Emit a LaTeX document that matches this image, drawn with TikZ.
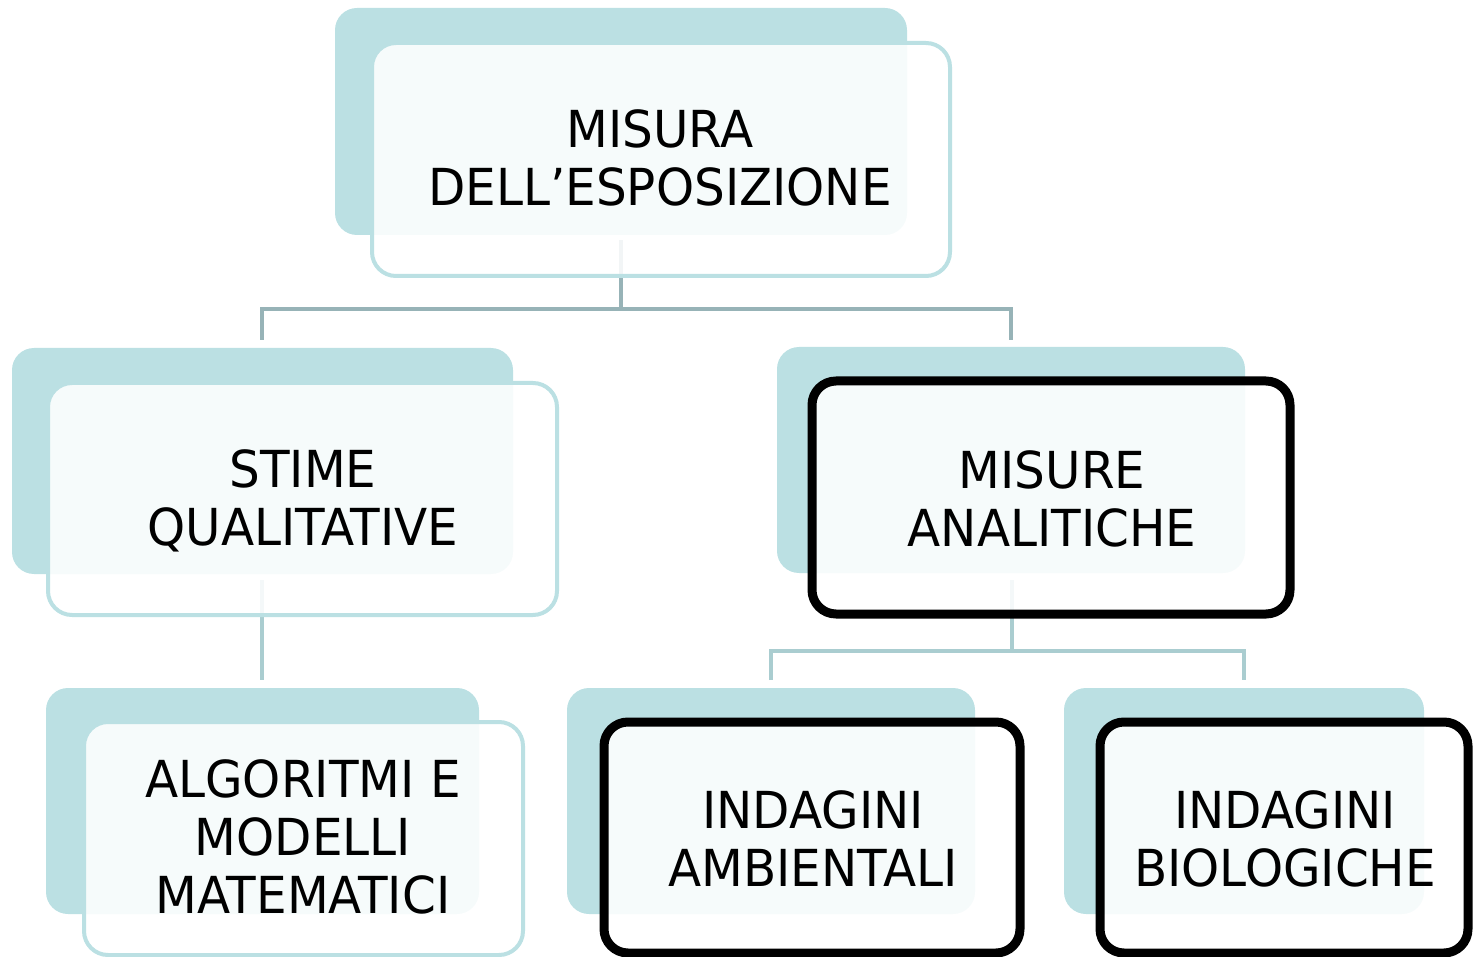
\documentclass[tikz,border=0pt]{standalone}
\usepackage{fontspec}
\setmainfont[FakeStretch=0.95]{DejaVu Sans}
\definecolor{backteal}{HTML}{BBE0E3}
\definecolor{edgeteal}{HTML}{BBE0E3}
\definecolor{linetop}{HTML}{97B3B7}
\definecolor{linelow}{HTML}{AACDD0}
\tikzset{
  backbox/.style={fill=backteal, draw=none, rounded corners=22pt},
  frontbox/.style={fill=white, fill opacity=0.88, draw=edgeteal, line width=4pt, rounded corners=24pt},
  hotbox/.style={fill=white, fill opacity=0.88, draw=black, line width=9pt, rounded corners=24pt},
  label/.style={align=center, font=\fontsize{51pt}{58pt}\selectfont, text=black, inner sep=0pt},
  conntop/.style={draw=linetop, line width=4pt},
  connlow/.style={draw=linelow, line width=4pt}
}
\begin{document}
\begin{tikzpicture}[x=1pt,y=-1pt]
\useasboundingbox (0,0) rectangle (1473,957);
% back shapes
\path[backbox] (335,8) rectangle (907,235);
\path[backbox] (12,348) rectangle (513,574);
\path[backbox] (777,347) rectangle (1245,573);
\path[backbox] (46,688) rectangle (479,914);
\path[backbox] (567,688) rectangle (975,914);
\path[backbox] (1064,688) rectangle (1424,914);
% connector points
\coordinate (t0) at (621,240);
\coordinate (t1) at (621,309);
\coordinate (tl) at (262,309);
\coordinate (tr) at (1011,309);
\coordinate (tl2) at (262,340);
\coordinate (tr2) at (1011,340);
\coordinate (l0) at (262,580);
\coordinate (l1) at (262,680);
\coordinate (r0) at (1012,580);
\coordinate (r1) at (1012,651);
\coordinate (rl) at (771,651);
\coordinate (rr) at (1244,651);
\coordinate (rl2) at (771,680);
\coordinate (rr2) at (1244,680);
\draw[conntop] (t0) -- (t1);
\draw[conntop] (tl2) -- (tl) -- (tr) -- (tr2);
\draw[connlow] (l0) -- (l1);
\draw[connlow] (r0) -- (r1);
\draw[connlow] (rl2) -- (rl) -- (rr) -- (rr2);
% front boxes
\path[frontbox] (372,43) rectangle (950,276);
\path[frontbox] (48,383) rectangle (557,615);
\path[hotbox] (812,381) rectangle (1290,614);
\path[frontbox] (84,722) rectangle (523,955);
\path[hotbox] (604,722) rectangle (1020,953);
\path[hotbox] (1100,722) rectangle (1468,953);
% labels
\node[label] (top) at (660,158) {MISURA\\DELL’ESPOSIZIONE};
\node[label] (qual) at (303,501) {STIME\\QUALITATIVE};
\node[label] (anal) at (1052,498.5) {MISURE\\ANALITICHE};
\node[label] (algo) at (303,836.5) {ALGORITMI E\\MODELLI\\MATEMATICI};
\node[label] (amb) at (813,838.5) {INDAGINI\\AMBIENTALI};
\node[label] (bio) at (1285,838.5) {INDAGINI\\BIOLOGICHE};
\end{tikzpicture}
\end{document}
